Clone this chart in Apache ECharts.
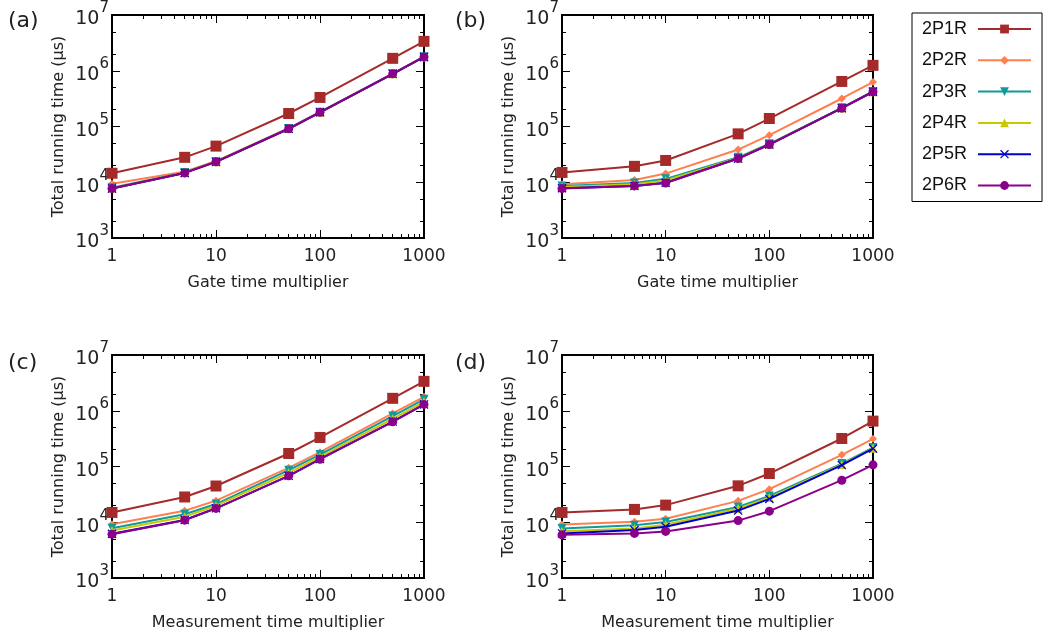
<!DOCTYPE html>
<html><head><meta charset="utf-8">
<script src="https://cdn.jsdelivr.net/npm/echarts@6/dist/echarts.min.js"></script>
<style>html,body{margin:0;padding:0;background:#fff}#c{width:1044px;height:644px}</style>
</head><body><div id="c"></div><script>
// ---------------- data ----------------
const multipliers = [1, 5, 10, 50, 100, 500, 1000];
const seriesNames = ['2P1R', '2P2R', '2P3R', '2P4R', '2P5R', '2P6R'];

// (a) gate time multiplier
const a_2P1R = [14500, 28000, 44500, 171000, 332000, 1670000, 3370000];
const a_2P2R = [9400, 15500, 24000, 93000, 182000, 890000, 1790000];
const a_2P3R = [8000, 15000, 23400, 92000, 181000, 883000, 1780000];
const a_2P4R = [7800, 14800, 23300, 92000, 180000, 880000, 1770000];
const a_2P5R = [7700, 14700, 23200, 91000, 180000, 880000, 1770000];
const a_2P6R = [7700, 14700, 23200, 91000, 180000, 880000, 1770000];
// (b) gate time multiplier
const b_2P1R = [15000, 19300, 24600, 73800, 139000, 643000, 1250000];
const b_2P2R = [9200, 11000, 14300, 38600, 69900, 318000, 626000];
const b_2P3R = [8600, 9700, 11500, 28000, 49000, 216000, 425000];
const b_2P4R = [8200, 9200, 10800, 27200, 48000, 214000, 422000];
const b_2P5R = [7800, 8600, 9800, 26600, 47500, 213000, 420000];
const b_2P6R = [7700, 8600, 9700, 26600, 47500, 213000, 420000];
// (c) measurement time multiplier
const c_2P1R = [15000, 28400, 44700, 171000, 332000, 1670000, 3370000];
const c_2P2R = [9200, 16100, 24400, 94600, 181000, 895000, 1780000];
const c_2P3R = [7800, 13900, 21200, 86000, 164000, 802000, 1600000];
const c_2P4R = [7100, 12600, 19800, 77000, 149000, 718000, 1450000];
const c_2P5R = [6200, 11000, 17800, 68000, 136000, 640000, 1300000];
const c_2P6R = [6100, 10900, 17700, 68000, 135000, 634000, 1300000];
// (d) measurement time multiplier
const d_2P1R = [15000, 17000, 20300, 45000, 74800, 318000, 652000];
const d_2P2R = [9150, 10200, 11600, 24200, 39200, 162000, 314000];
const d_2P3R = [7750, 8850, 10100, 18800, 29700, 113000, 219000];
const d_2P4R = [6900, 7750, 9000, 17600, 27700, 109000, 212000];
const d_2P5R = [6300, 7250, 8300, 16200, 26200, 106000, 210000];
const d_2P6R = [5950, 6300, 6850, 10700, 15800, 56800, 107000];

const panelData = [
  [a_2P1R, a_2P2R, a_2P3R, a_2P4R, a_2P5R, a_2P6R],
  [b_2P1R, b_2P2R, b_2P3R, b_2P4R, b_2P5R, b_2P6R],
  [c_2P1R, c_2P2R, c_2P3R, c_2P4R, c_2P5R, c_2P6R],
  [d_2P1R, d_2P2R, d_2P3R, d_2P4R, d_2P5R, d_2P6R]
];

const panelLabels = ['(a)', '(b)', '(c)', '(d)'];
const xAxisTitles = ['Gate time multiplier', 'Gate time multiplier', 'Measurement time multiplier', 'Measurement time multiplier'];
const yAxisTitle = 'Total running time (μs)';
const xMajorTicks = [1, 10, 100, 1000];
const xMinorTicks = [2, 3, 4, 5, 6, 7, 8, 9, 20, 30, 40, 50, 60, 70, 80, 90, 200, 300, 400, 500, 600, 700, 800, 900];
const yMajorTicks = [1e3, 1e4, 1e5, 1e6, 1e7];
const yMinorTicks = [2e3, 5e3, 2e4, 5e4, 2e5, 5e5, 2e6, 5e6];

// ---------------- styles ----------------
const seriesColors = ['#a52a2a', '#ff7f50', '#109a9a', '#c8c800', '#0000cd', '#8b008b'];
const X_PATH = 'path://M0,1L1,0L5,4L9,0L10,1L6,5L10,9L9,10L5,6L1,10L0,9L4,5Z';
const seriesSymbols = ['rect', 'diamond', 'path://M0,0L10,0L5,9Z', 'triangle', X_PATH, 'circle'];
const seriesSymbolSizes = [11, 8, 9, 9, 9, 9];

const gridBoxes = [
  { left: 112, top: 15, width: 312, height: 223 },
  { left: 562, top: 15, width: 311, height: 223 },
  { left: 112, top: 355, width: 312, height: 223 },
  { left: 562, top: 355, width: 311, height: 223 }
];
const labelPos = [[8, 23], [455, 23], [8, 365], [455, 365]];

const FONT = 'DejaVu Sans';
const AX = { color: '#000', width: 2 };

const xAxes = [], yAxes = [], series = [], graphics = [];
gridBoxes.forEach((g, gi) => {
  const xc = { type: 'log', logBase: 10, min: 1, max: 1000, gridIndex: gi,
    splitLine: { show: false }, axisLine: { show: true, onZero: false, lineStyle: AX } };
  const yc = { type: 'log', logBase: 10, min: 1000, max: 1e7, gridIndex: gi,
    splitLine: { show: false }, axisLine: { show: true, onZero: false, lineStyle: AX } };
  const xi = xAxes.length, yi = yAxes.length;
  xAxes.push(Object.assign({}, xc, { position: 'bottom',
    axisTick: { inside: true, length: 8, customValues: xMajorTicks, lineStyle: { color: '#000', width: 1 } },
    axisLabel: { customValues: xMajorTicks, fontSize: 17, color: '#222', margin: 10, fontFamily: FONT,
      formatter: v => String(Math.round(v)) },
    name: xAxisTitles[gi], nameLocation: 'middle', nameGap: 37,
    nameTextStyle: { fontSize: 16, color: '#222', fontFamily: FONT } }));
  xAxes.push(Object.assign({}, xc, { position: 'bottom',
    axisTick: { inside: true, length: 4, customValues: xMinorTicks, lineStyle: { color: '#000', width: 1 } },
    axisLabel: { show: false } }));
  xAxes.push(Object.assign({}, xc, { position: 'top',
    axisTick: { inside: true, length: 8, customValues: xMajorTicks, lineStyle: { color: '#000', width: 1 } },
    axisLabel: { show: false } }));
  xAxes.push(Object.assign({}, xc, { position: 'top',
    axisTick: { inside: true, length: 4, customValues: xMinorTicks, lineStyle: { color: '#000', width: 1 } },
    axisLabel: { show: false } }));

  yAxes.push(Object.assign({}, yc, { position: 'left',
    axisTick: { inside: true, length: 8, customValues: yMajorTicks, lineStyle: { color: '#000', width: 1 } },
    axisLabel: { customValues: yMajorTicks, margin: 3, color: '#222', fontFamily: FONT,
      formatter: v => '{b|10}{s|' + Math.round(Math.log10(v)) + '}',
      rich: { b: { fontSize: 19, fontFamily: FONT, color: '#222', lineHeight: 28, verticalAlign: 'bottom' },
              s: { fontSize: 15, fontFamily: FONT, color: '#222', lineHeight: 16, verticalAlign: 'top' } } },
    name: yAxisTitle, nameLocation: 'middle', nameGap: 45,
    nameTextStyle: { fontSize: 16, color: '#222', fontFamily: FONT } }));
  yAxes.push(Object.assign({}, yc, { position: 'left',
    axisTick: { inside: true, length: 4, customValues: yMinorTicks, lineStyle: { color: '#000', width: 1 } },
    axisLabel: { show: false } }));
  yAxes.push(Object.assign({}, yc, { position: 'right',
    axisTick: { inside: true, length: 8, customValues: yMajorTicks, lineStyle: { color: '#000', width: 1 } },
    axisLabel: { show: false } }));
  yAxes.push(Object.assign({}, yc, { position: 'right',
    axisTick: { inside: true, length: 4, customValues: yMinorTicks, lineStyle: { color: '#000', width: 1 } },
    axisLabel: { show: false } }));

  seriesNames.forEach((name, si) => {
    series.push({
      type: 'line', name: name, xAxisIndex: xi, yAxisIndex: yi,
      data: multipliers.map((m, k) => [m, panelData[gi][si][k]]),
      symbol: seriesSymbols[si], symbolSize: seriesSymbolSizes[si],
      showAllSymbol: true,
      lineStyle: { color: seriesColors[si], width: 2 },
      itemStyle: { color: seriesColors[si] },
      z: 2 + si
    });
  });

  graphics.push({ type: 'text', left: labelPos[gi][0], top: labelPos[gi][1] - 13,
    style: { text: panelLabels[gi], fontSize: 22, fontFamily: FONT, fill: '#222' } });
});

const chart = echarts.init(document.getElementById('c'), null, { renderer: 'canvas' });
chart.setOption({
  animation: false,
  backgroundColor: '#fff',
  grid: gridBoxes,
  xAxis: xAxes,
  yAxis: yAxes,
  series: series,
  graphic: graphics,
  legend: {
    data: seriesNames, orient: 'vertical', left: 912, top: 13, align: 'right',
    itemWidth: 53, itemHeight: 11, itemGap: 13.3, padding: [7, 10, 7, 10],
    borderColor: '#000', borderWidth: 1,
    textStyle: { fontFamily: 'Liberation Sans', fontSize: 18, color: '#111', lineHeight: 18, padding: [0, 6, 0, 0] }
  }
});
</script></body></html>
